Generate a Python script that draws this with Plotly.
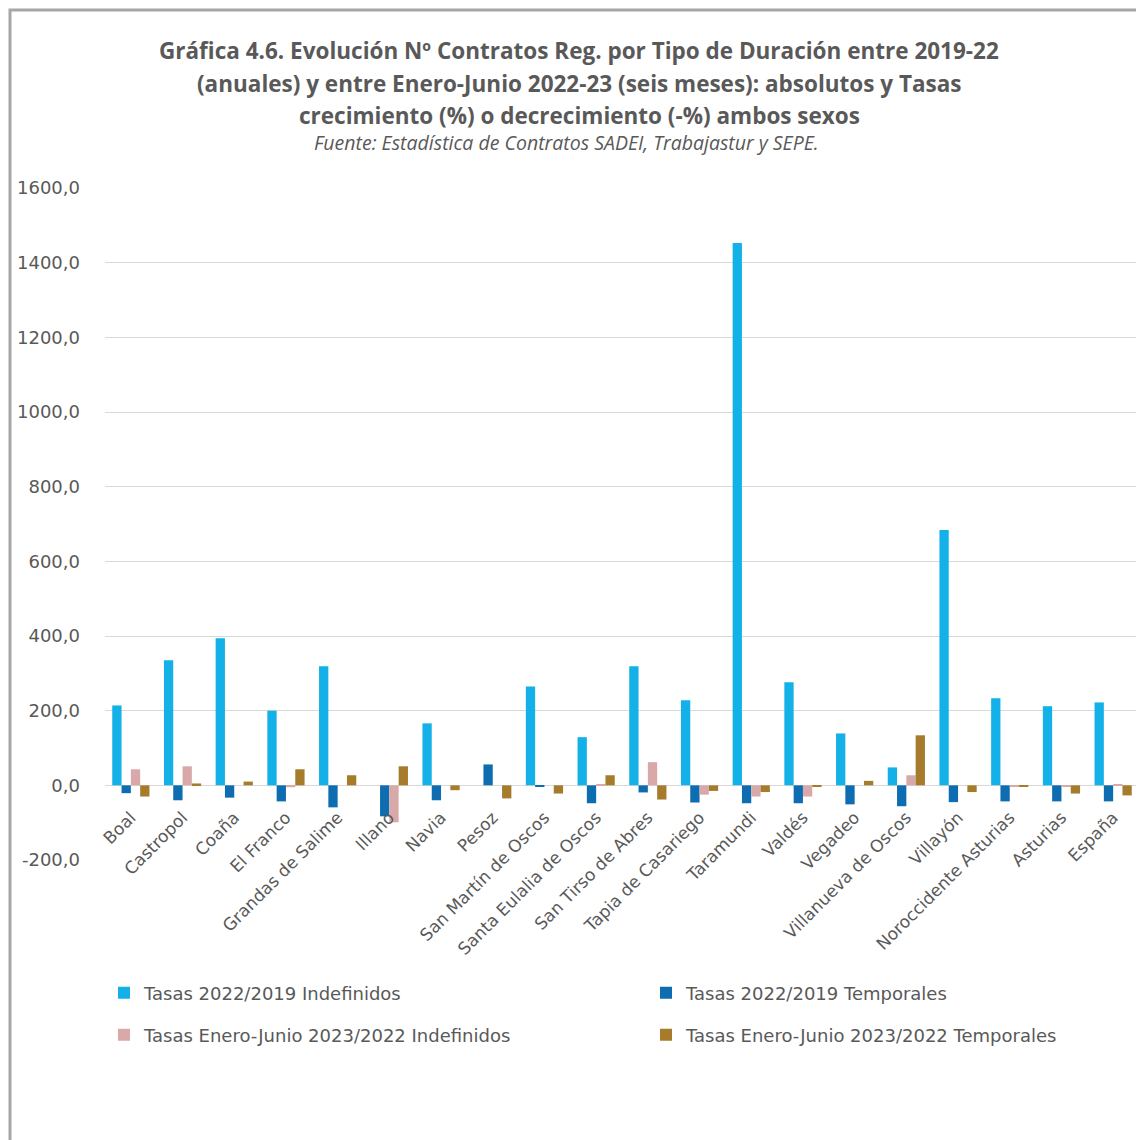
import plotly.graph_objects as go

categories = ["Boal", "Castropol", "Coaña", "El Franco", "Grandas de Salime", "Illano",
              "Navia", "Pesoz", "San Martín de Oscos", "Santa Eulalia de Oscos",
              "San Tirso de Abres", "Tapia de Casariego", "Taramundi", "Valdés", "Vegadeo",
              "Villanueva de Oscos", "Villayón", "Noroccidente Asturias", "Asturias", "España"]

indef_22_19 = [214, 335, 394, 200, 319, 0, 166, 0, 265, 129, 319, 228, 1453, 276, 139, 48, 684, 233, 212, 222]
temp_22_19 = [-21, -40, -33, -43, -59, -83, -40, 56, -3, -48, -19, -46, -48, -48, -51, -56, -45, -43, -43, -43]
indef_23_22 = [43, 51, 0, -5, 0, -99, 0, 0, 0, 3, 62, -25, -30, -30, 0, 27, 0, -3, -2, 2]
temp_23_22 = [-30, 5, 10, 43, 27, 51, -13, -35, -22, 27, -38, -15, -18, -3, 12, 134, -18, -2, -22, -27]

series_names = ["Tasas 2022/2019 Indefinidos", "Tasas 2022/2019 Temporales",
                "Tasas Enero-Junio 2023/2022 Indefinidos", "Tasas Enero-Junio 2023/2022 Temporales"]
series_colors = ["#13B1E8", "#0E6DB0", "#D9A9AA", "#A67B2C"]

tick_vals = [-200, 0, 200, 400, 600, 800, 1000, 1200, 1400, 1600]
tick_text = ["-200,0", "0,0", "200,0", "400,0", "600,0", "800,0", "1000,0", "1200,0", "1400,0", "1600,0"]

TITLE_FONT = "Open Sans, Roboto, sans-serif"
FONT = "DejaVu Sans, Open Sans, sans-serif"
GREY = "#595959"

# page offset of the figure (body margin) and figure size
OFF = 8
W, H = 1136, 1132
# plot area, in screen pixels
PX0, PX1, PY0, PY1 = 105, 1139, 188, 860
L, R, T, B = PX0 - OFF, W - (PX1 - OFF), PY0 - OFF, H - (PY1 - OFF)
PW, PH = W - L - R, H - T - B


def px_x(sx):
    return (sx - PX0) / PW


def px_y(sy):
    return (PY1 - sy) / PH


# legend placement (screen pixels): column x of the legend box, row centre y
legend_pos = [(104, 993), (646, 993), (104, 1035), (646, 1035)]
legend_ids = ["legend", "legend2", "legend3", "legend4"]

fig = go.Figure()
for name, vals, col, lg in zip(series_names, [indef_22_19, temp_22_19, indef_23_22, temp_23_22],
                               series_colors, legend_ids):
    fig.add_trace(go.Bar(x=categories, y=vals, name=name, marker_color=col,
                         marker_line_width=0, legend=lg))

title_lines = [
    "Gráfica 4.6. Evolución Nº Contratos Reg. por Tipo de Duración entre 2019-22",
    "(anuales) y entre Enero-Junio 2022-23 (seis meses): absolutos y Tasas",
    "crecimiento (%) o decrecimiento (-%) ambos sexos",
]
title_y_px = [50, 83, 115]
annotations = []
for line, sy in zip(title_lines, title_y_px):
    annotations.append(dict(text="<b>" + line + "</b>", xref="paper", yref="paper",
                            x=px_x(579), y=px_y(sy), xanchor="center", yanchor="middle",
                            showarrow=False, font=dict(family=TITLE_FONT, size=22.5, color=GREY)))
annotations.append(dict(text="<i>Fuente: Estadística de Contratos SADEI, Trabajastur y SEPE.</i>",
                        xref="paper", yref="paper", x=px_x(566), y=px_y(142),
                        xanchor="center", yanchor="middle", showarrow=False,
                        font=dict(family=TITLE_FONT, size=19.5, color=GREY)))

legends = {}
for lid, (sx, sy) in zip(legend_ids, legend_pos):
    legends[lid] = dict(orientation="h", xref="container", yref="container",
                        x=(sx - OFF) / W, y=1 - (sy - OFF) / H, xanchor="left", yanchor="middle",
                        font=dict(family=FONT, size=18, color=GREY),
                        itemwidth=30, bgcolor="rgba(0,0,0,0)")

fig.update_layout(
    width=W, height=H,
    margin=dict(l=L, r=R, t=T, b=B, autoexpand=False),
    paper_bgcolor="white", plot_bgcolor="white",
    barmode="group", bargap=0.28, bargroupgap=0,
    font=dict(family=FONT, color=GREY, size=14),
    annotations=annotations,
    showlegend=True,
    shapes=[dict(type="rect", xref="paper", yref="paper",
                 x0=px_x(10), x1=px_x(1138), y0=px_y(1170), y1=px_y(10),
                 line=dict(color="#a6a6a6", width=3), layer="below")],
    **legends,
)

fig.update_yaxes(range=[-200, 1600], tickvals=tick_vals, ticktext=tick_text,
                 showgrid=True, gridcolor="#d9d9d9", gridwidth=1, zeroline=False,
                 showline=False, ticks="", ticklabelstandoff=24, automargin=False,
                 tickfont=dict(family=FONT, size=18, color=GREY))
fig.update_xaxes(anchor="free", position=200 / 1800, tickangle=-45, showline=False,
                 ticks="", showgrid=False, ticklabelstandoff=18, automargin=False,
                 tickfont=dict(family=FONT, size=17, color=GREY))

fig.write_html("out.html")
